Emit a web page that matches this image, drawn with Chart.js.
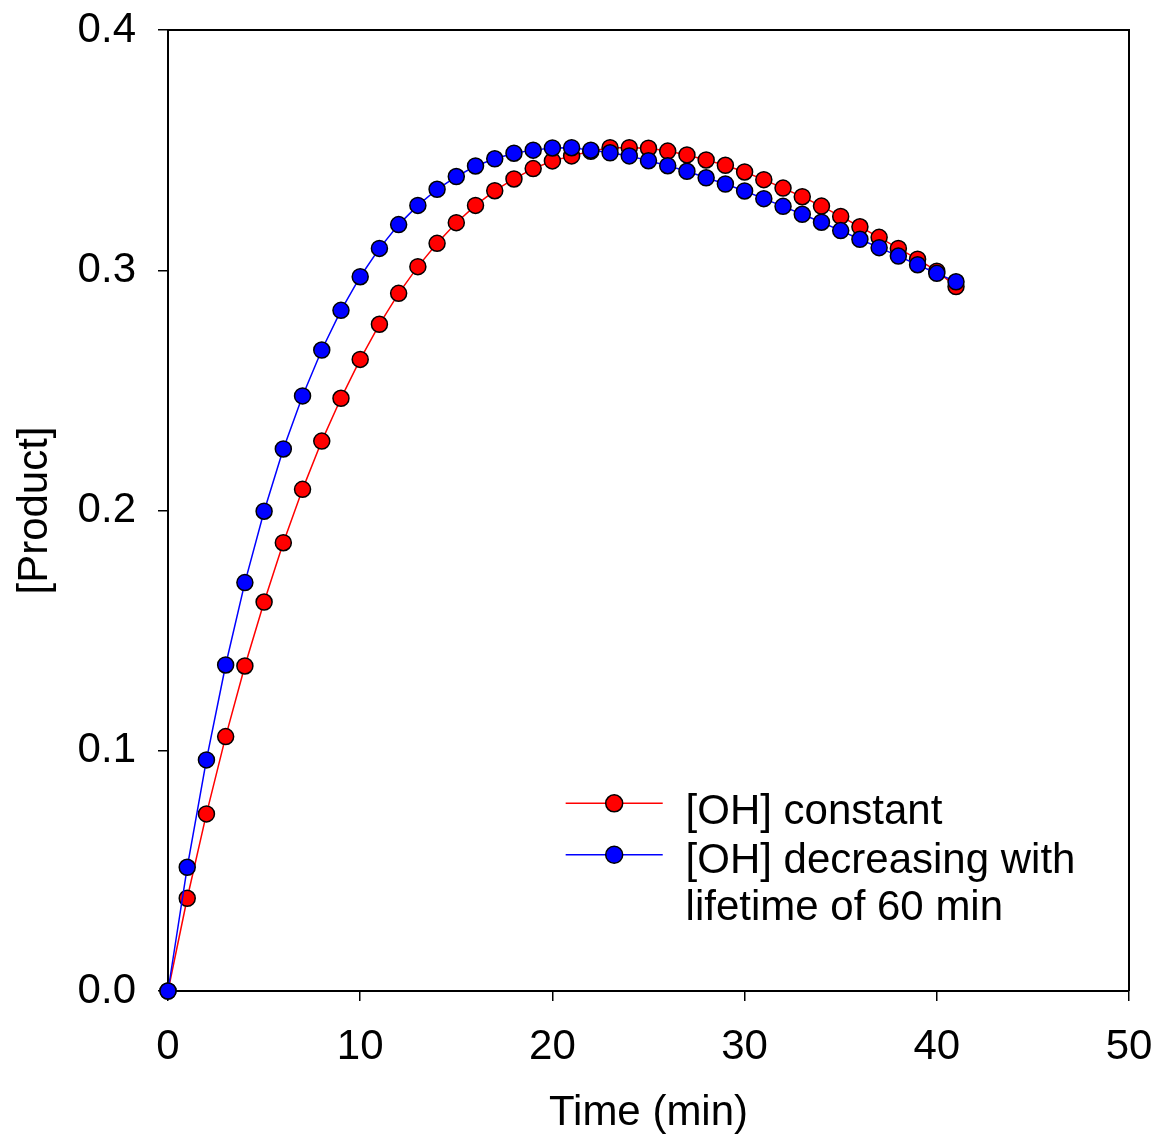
<!DOCTYPE html>
<html>
<head>
<meta charset="utf-8">
<script src="https://cdn.jsdelivr.net/npm/chart.js@4.4.1/dist/chart.umd.min.js"></script>
<style>
  html, body { margin: 0; padding: 0; background: #ffffff; }
  #wrap { width: 1157px; height: 1139px; }
</style>
</head>
<body>
<div id="wrap"><canvas id="c" width="1157" height="1139"></canvas></div>
<script>
// ---- data ----
const timeMin = [0, 1, 2, 3, 4, 5, 6, 7, 8, 9, 10, 11, 12, 13, 14, 15, 16, 17, 18, 19, 20,
                 21, 22, 23, 24, 25, 26, 27, 28, 29, 30, 31, 32, 33, 34, 35, 36, 37, 38, 39, 40, 41];

const ohConstant = [0, 0.0386, 0.0737, 0.1059, 0.1353, 0.1619, 0.1866, 0.2088, 0.2289, 0.2467,
                    0.2629, 0.2775, 0.2904, 0.3015, 0.3112, 0.3198, 0.3270, 0.3331, 0.3380, 0.3423,
                    0.3455, 0.3476, 0.3495, 0.3510, 0.3510, 0.3508, 0.3496, 0.3480, 0.3459, 0.3437,
                    0.3409, 0.3377, 0.3342, 0.3306, 0.3267, 0.3224, 0.3181, 0.3137, 0.3091, 0.3046,
                    0.2996, 0.2932];

const ohDecreasing = [0, 0.0515, 0.0962, 0.1357, 0.1700, 0.1997, 0.2256, 0.2477, 0.2668, 0.2833,
                      0.2973, 0.3091, 0.3190, 0.3270, 0.3337, 0.3390, 0.3434, 0.3464, 0.3487, 0.3500,
                      0.3509, 0.3510, 0.3500, 0.3489, 0.3476, 0.3456, 0.3435, 0.3412, 0.3385, 0.3359,
                      0.3330, 0.3298, 0.3266, 0.3233, 0.3200, 0.3165, 0.3129, 0.3094, 0.3059, 0.3023,
                      0.2987, 0.2952];

const xTickValues = [0, 10, 20, 30, 40, 50];
const yTickValues = [0.0, 0.1, 0.2, 0.3, 0.4];

const seriesLabels = ['[OH] constant', ['[OH] decreasing with', 'lifetime of 60 min']];
const xTitle = 'Time (min)';
const yTitle = '[Product]';

// ---- styling ----
const FONT = '"Liberation Sans", Arial, Helvetica, sans-serif';
const FONT_SIZE = 42;
const RED = '#ff0000';
const BLUE = '#0000ff';

function toXY(xs, ys) { return xs.map((x, i) => ({ x: x, y: ys[i] })); }

const framePlugin = {
  id: 'frame',
  beforeDatasetsDraw(chart) {
    const { ctx, chartArea: a } = chart;
    ctx.save();
    ctx.strokeStyle = '#000';
    ctx.lineWidth = 2;
    ctx.beginPath();
    ctx.moveTo(a.left, a.top);
    ctx.lineTo(a.right, a.top);
    ctx.lineTo(a.right, a.bottom);
    ctx.stroke();
    ctx.restore();
  }
};

const legendPlugin = {
  id: 'inlineLegend',
  afterDraw(chart) {
    const { ctx } = chart;
    const xs = chart.scales.x, ys = chart.scales.y;
    const lineX0 = xs.getPixelForValue(20.69);
    const lineX1 = xs.getPixelForValue(25.74);
    const mx = (lineX0 + lineX1) / 2;
    const textX = xs.getPixelForValue(26.93);
    const rowY = [ys.getPixelForValue(0.0781), ys.getPixelForValue(0.0567)];
    const colors = [RED, BLUE];
    ctx.save();
    ctx.font = FONT_SIZE + 'px ' + FONT;
    ctx.textAlign = 'left';
    ctx.textBaseline = 'alphabetic';
    for (let i = 0; i < 2; i++) {
      const y = rowY[i];
      ctx.strokeStyle = colors[i];
      ctx.lineWidth = 1.5;
      ctx.beginPath();
      ctx.moveTo(lineX0, y);
      ctx.lineTo(lineX1, y);
      ctx.stroke();
      ctx.beginPath();
      ctx.arc(mx, y, 8.5, 0, Math.PI * 2);
      ctx.fillStyle = colors[i];
      ctx.fill();
      ctx.strokeStyle = '#000';
      ctx.lineWidth = 1.5;
      ctx.stroke();
    }
    ctx.fillStyle = '#000';
    ctx.fillText(seriesLabels[0], textX, rowY[0] + 21);
    ctx.fillText(seriesLabels[1][0], textX, rowY[1] + 18);
    ctx.fillText(seriesLabels[1][1], textX, rowY[1] + 65);
    ctx.restore();
  }
};

const datasetStyle = (color) => ({
  borderColor: color,
  backgroundColor: color,
  borderWidth: 1.5,
  pointRadius: 8,
  pointHoverRadius: 8,
  pointBackgroundColor: color,
  pointBorderColor: '#000',
  pointBorderWidth: 1.5,
  tension: 0,
  fill: false,
  clip: false
});

new Chart(document.getElementById('c'), {
  type: 'line',
  data: {
    datasets: [
      Object.assign({ label: seriesLabels[1].join(' '), data: toXY(timeMin, ohDecreasing) }, datasetStyle(BLUE)),
      Object.assign({ label: seriesLabels[0], data: toXY(timeMin, ohConstant) }, datasetStyle(RED))
    ]
  },
  options: {
    responsive: false,
    animation: false,
    events: [],
    layout: { padding: { top: 30, right: 28, left: 0, bottom: 0 } },
    plugins: { legend: { display: false }, tooltip: { enabled: false } },
    scales: {
      x: {
        type: 'linear',
        min: 0, max: 50,
        afterFit(scale) {
          scale.height = 148;
          scale.paddingLeft = 0; scale.paddingRight = 0;
          scale.paddingTop = 0; scale.paddingBottom = 0;
        },
        afterBuildTicks(scale) { scale.ticks = xTickValues.map(v => ({ value: v })); },
        ticks: {
          color: '#000',
          font: { family: FONT, size: FONT_SIZE },
          padding: 21,
          maxRotation: 0,
          callback: (v) => String(v)
        },
        grid: { display: true, drawOnChartArea: false, drawTicks: true, tickLength: 10, color: '#000', lineWidth: 1.5 },
        border: { display: true, color: '#000', width: 2 },
        title: {
          display: true, text: xTitle, color: '#000',
          font: { family: FONT, size: FONT_SIZE },
          padding: { top: 0, bottom: 0 }
        }
      },
      y: {
        type: 'linear',
        min: 0, max: 0.4,
        afterFit(scale) {
          scale.width = 168;
          scale.paddingLeft = 0; scale.paddingRight = 0;
          scale.paddingTop = 0; scale.paddingBottom = 0;
        },
        afterBuildTicks(scale) { scale.ticks = yTickValues.map(v => ({ value: v })); },
        ticks: {
          color: '#000',
          font: { family: FONT, size: FONT_SIZE },
          padding: 22,
          callback: (v) => Number(v).toFixed(1)
        },
        grid: { display: true, drawOnChartArea: false, drawTicks: true, tickLength: 10, color: '#000', lineWidth: 1.5 },
        border: { display: true, color: '#000', width: 2 },
        title: {
          display: true, text: yTitle, color: '#000',
          font: { family: FONT, size: FONT_SIZE },
          padding: { top: 10, bottom: 0 }
        }
      }
    }
  },
  plugins: [framePlugin, legendPlugin]
});
</script>
</body>
</html>
